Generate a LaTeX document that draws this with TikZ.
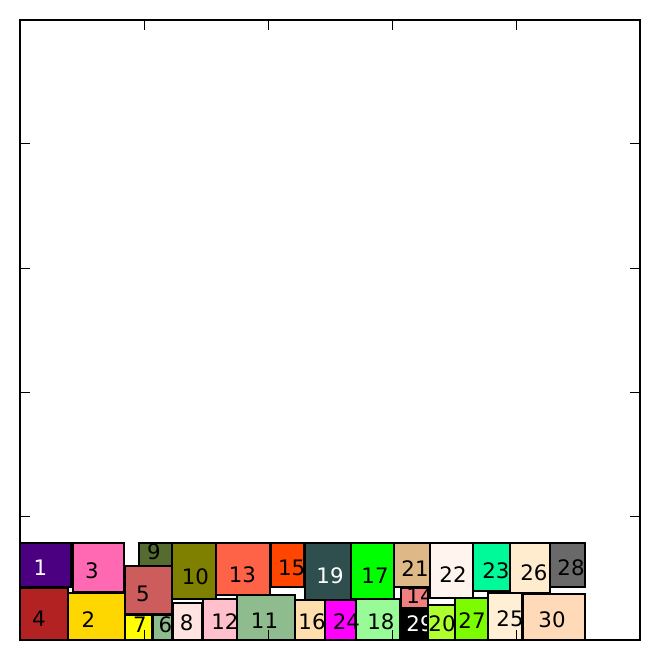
\documentclass[tikz,border=0pt]{standalone}
\usepackage{fontspec}
\setmainfont{DejaVu Sans}
\definecolor{c1}{HTML}{4B0082}
\definecolor{c2}{HTML}{FFD700}
\definecolor{c3}{HTML}{FF69B4}
\definecolor{c4}{HTML}{B22222}
\definecolor{c5}{HTML}{CD5C5C}
\definecolor{c6}{HTML}{8FBC8F}
\definecolor{c7}{HTML}{FFFF00}
\definecolor{c8}{HTML}{FFE4E1}
\definecolor{c9}{HTML}{556B2F}
\definecolor{c10}{HTML}{808000}
\definecolor{c11}{HTML}{8FBC8F}
\definecolor{c12}{HTML}{FFC0CB}
\definecolor{c13}{HTML}{FF6347}
\definecolor{c14}{HTML}{F08080}
\definecolor{c15}{HTML}{FF4500}
\definecolor{c16}{HTML}{FFDEAD}
\definecolor{c17}{HTML}{00FF00}
\definecolor{c18}{HTML}{98FB98}
\definecolor{c19}{HTML}{2F4F4F}
\definecolor{c20}{HTML}{ADFF2F}
\definecolor{c21}{HTML}{DEB887}
\definecolor{c22}{HTML}{FFF5EE}
\definecolor{c23}{HTML}{00FA9A}
\definecolor{c24}{HTML}{FF00FF}
\definecolor{c25}{HTML}{FFEFD5}
\definecolor{c26}{HTML}{FFEBCD}
\definecolor{c27}{HTML}{7CFC00}
\definecolor{c28}{HTML}{696969}
\definecolor{c29}{HTML}{000000}
\definecolor{c30}{HTML}{FFDAB9}
\tikzset{
  rb/.style={draw=black, line width=2pt},
  lbl/.style={inner sep=0pt, outer sep=0pt, anchor=center, font=\fontsize{21.3}{21.3}\selectfont, text=black},
  wlbl/.style={lbl, text=white},
  frame/.style={draw=black, line width=2.5pt},
  tick/.style={draw=black, line width=1pt}
}
\begin{document}
\begin{tikzpicture}[x=1pt,y=-1pt]
\useasboundingbox (0,0) rectangle (659,660);
\fill[white] (0,0) rectangle (659,660);
% rectangles with labels, in drawing order
\draw[rb,fill=c1] (20,543) rectangle (70.5,587);
\node[wlbl] (l1) at (40.3,568) {1};
\draw[rb,fill=c2] (68,592.5) rectangle (124.5,640);
\node[lbl] (l2) at (88.3,620) {2};
\draw[rb,fill=c3] (72.5,543) rectangle (124,592);
\node[lbl] (l3) at (92,571) {3};
\draw[rb,fill=c4] (20,588) rectangle (67.5,640);
\node[lbl] (l4) at (39,619) {4};
\draw[rb,fill=c5] (125,566) rectangle (171.5,613.5);
\node[lbl] (l5) at (143,594) {5};
\draw[rb,fill=c6] (153,614.5) rectangle (171.5,640);
\node[lbl] (l6) at (165.3,625) {6};
\draw[rb,fill=c7] (125,614.5) rectangle (152,640);
\node[lbl] (l7) at (140,624.8) {7};
\draw[rb,fill=c8] (173,602.5) rectangle (202,640);
\node[lbl] (l8) at (186.7,622.5) {8};
\draw[rb,fill=c9] (139,543) rectangle (171.5,565.5);
\node[lbl] (l9) at (154,551.7) {9};
\draw[rb,fill=c10] (172,543) rectangle (215.5,599);
\node[lbl] (l10) at (195.3,576.7) {10};
\draw[rb,fill=c12] (202.5,599) rectangle (236.5,640);
\node[lbl] (l12) at (225,621.7) {12};
\draw[rb,fill=c11] (236.5,595) rectangle (294.5,640);
\node[lbl] (l11) at (264.5,621) {11};
\draw[rb,fill=c13] (215.5,543) rectangle (270,594.5);
\node[lbl] (l13) at (242.5,574.3) {13};
\draw[rb,fill=c14] (400.5,588) rectangle (428,607.5);
\begin{scope}
\clip (400.5,588) rectangle (428.5,607.5);
\node[lbl] (l14) at (420,596) {14};
\end{scope}
\draw[rb,fill=c15] (270.5,543) rectangle (304,587);
\node[lbl] (l15) at (291.7,568) {15};
\draw[rb,fill=c16] (294.5,600) rectangle (325,640);
\node[lbl] (l16) at (312,621.5) {16};
\draw[rb,fill=c17] (350.5,543) rectangle (393.5,599);
\node[lbl] (l17) at (375,575.7) {17};
\draw[rb,fill=c18] (355.5,598.5) rectangle (400,640);
\node[lbl] (l18) at (380.8,621.7) {18};
\draw[rb,fill=c19] (304.5,543) rectangle (350.5,599.5);
\node[wlbl] (l19) at (330,576) {19};
\draw[rb,fill=c21] (393.5,543) rectangle (429.5,587);
\node[lbl] (l21) at (415,568.3) {21};
\draw[rb,fill=c22] (429.5,543) rectangle (472.5,597.5);
\node[lbl] (l22) at (453,575) {22};
\draw[rb,fill=c23] (472.5,543) rectangle (509.5,591);
\node[lbl] (l23) at (495.8,570.5) {23};
\draw[rb,fill=c24] (325,600) rectangle (355.5,640);
\node[lbl] (l24) at (346.3,621.7) {24};
\draw[rb,fill=c25] (487.5,593) rectangle (522,640);
\node[lbl] (l25) at (510,619) {25};
\draw[rb,fill=c26] (509.5,543) rectangle (549.5,593);
\node[lbl] (l26) at (533.8,572.5) {26};
\draw[rb,fill=c27] (454.5,598) rectangle (487.5,640);
\node[lbl] (l27) at (472,620.5) {27};
\draw[rb,fill=c28] (549.5,543) rectangle (585,586.5);
\node[lbl] (l28) at (571,567.7) {28};
\draw[rb,fill=c29] (400,607.5) rectangle (428,640);
\node[wlbl] (l29) at (420,624) {29};
\draw[rb,fill=c20] (428,605) rectangle (454.5,640);
\node[lbl] (l20) at (442,624) {20};
\draw[rb,fill=c30] (522.5,594) rectangle (585,640);
\node[lbl] (l30) at (552,620) {30};
% ticks
\foreach \t in {144,268,392,516} {
  \draw[tick] (\t,20) -- (\t,30);
  \draw[tick] (\t,640) -- (\t,630);
  \draw[tick] (20,\t) -- (30,\t);
  \draw[tick] (640,\t) -- (630,\t);
}
% axes frame
\draw[frame] (20,20) rectangle (640,640);
\end{tikzpicture}
\end{document}
